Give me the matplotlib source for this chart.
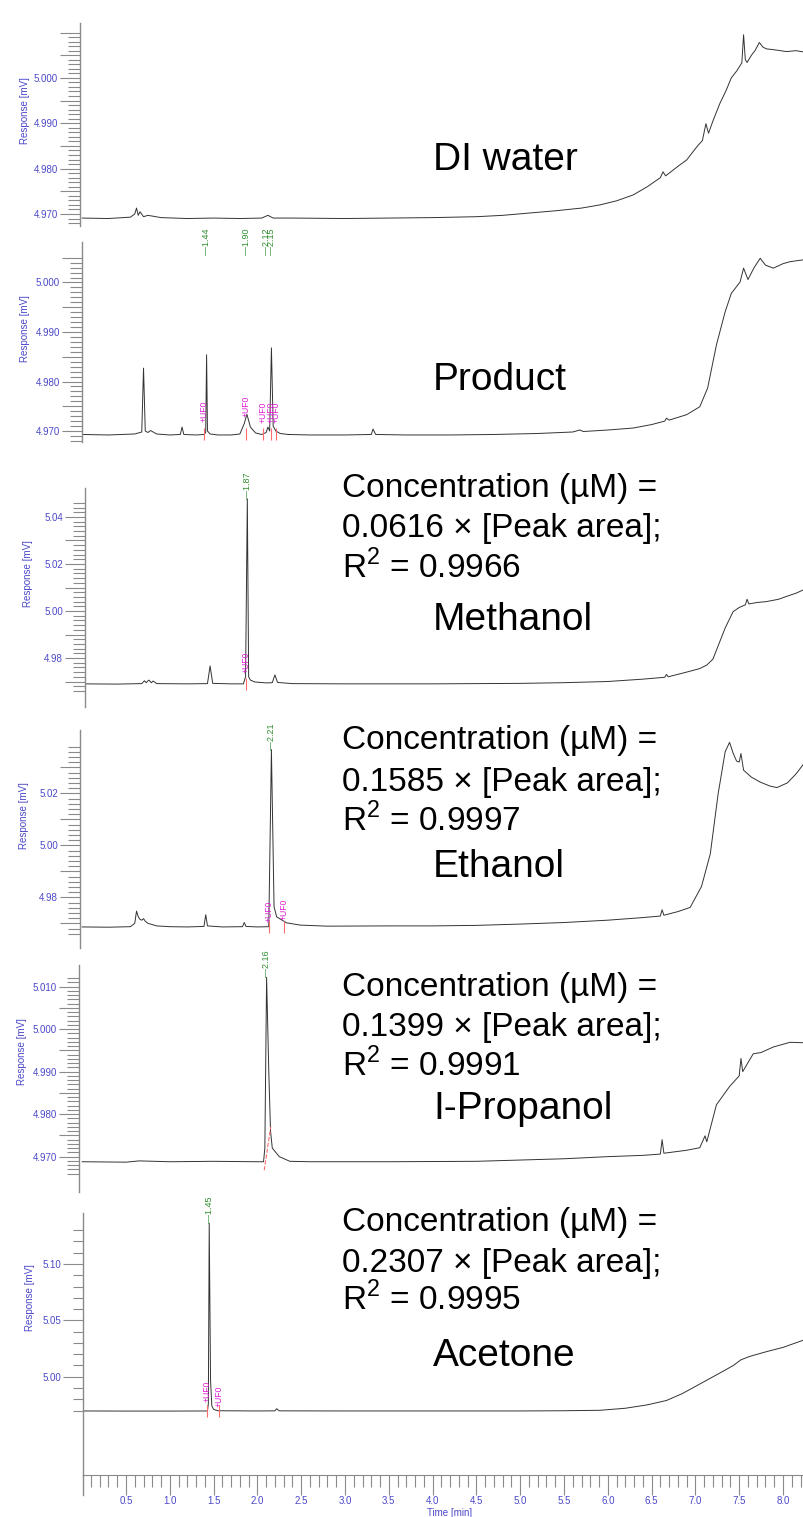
import numpy as np
import matplotlib.pyplot as plt
from matplotlib.ticker import FixedLocator, FuncFormatter
from matplotlib.lines import Line2D

plt.rcParams['font.family'] = ['Liberation Sans', 'DejaVu Sans']
plt.rcParams['mathtext.fontset'] = 'custom'
plt.rcParams['mathtext.rm'] = 'Liberation Sans'

# ---- chromatogram traces: retention time [min] / response [mV] ----
di_t = [0.00, 0.30, 0.55, 0.60, 0.62, 0.64, 0.66, 0.70, 0.75, 0.90, 1.20, 1.50, 1.80, 2.05, 2.12, 2.18,
        2.40, 3.00, 3.50, 4.00, 4.50, 4.80, 5.10, 5.40, 5.70, 5.91, 6.10, 6.29, 6.45, 6.60, 6.63, 6.66,
        6.80, 6.90, 7.02, 7.08, 7.12, 7.15, 7.20, 7.28, 7.35, 7.41, 7.47, 7.53, 7.55, 7.57, 7.59, 7.64,
        7.68, 7.73, 7.77, 7.81, 7.90, 8.04, 8.15, 8.24]
di_v = [4.9691, 4.9690, 4.9693, 4.9700, 4.9713, 4.9697, 4.9705, 4.9694, 4.9697, 4.9692, 4.9690, 4.9691,
        4.9690, 4.9691, 4.9697, 4.9691, 4.9691, 4.9690, 4.9691, 4.9692, 4.9694, 4.9697, 4.9702, 4.9707,
        4.9713, 4.9720, 4.9729, 4.9742, 4.9760, 4.9780, 4.9793, 4.9784, 4.9805, 4.9819, 4.9849, 4.9862,
        4.9899, 4.9878, 4.9905, 4.9944, 4.9972, 5.0000, 5.0015, 5.0033, 5.0095, 5.0040, 5.0034, 5.0050,
        5.0060, 5.0078, 5.0068, 5.0064, 5.0062, 5.0058, 5.0060, 5.0057]

prod_t = [0.00, 0.30, 0.60, 0.68, 0.70, 0.72, 0.75, 0.78, 0.85, 1.00, 1.12, 1.14, 1.16, 1.30, 1.39, 1.41,
          1.42, 1.43, 1.46, 1.55, 1.70, 1.80, 1.85, 1.88, 1.92, 1.98, 2.05, 2.10, 2.12, 2.14, 2.16, 2.18,
          2.21, 2.26, 2.35, 2.60, 3.00, 3.30, 3.32, 3.35, 3.70, 4.20, 4.70, 5.20, 5.60, 5.68, 5.72, 6.00,
          6.29, 6.50, 6.65, 6.67, 6.70, 6.90, 7.05, 7.14, 7.24, 7.34, 7.41, 7.51, 7.55, 7.60, 7.67, 7.74,
          7.80, 7.89, 8.00, 8.08, 8.24]
prod_v = [4.9693, 4.9692, 4.9694, 4.9698, 4.9827, 4.9700, 4.9697, 4.9701, 4.9694, 4.9692, 4.9693, 4.9708,
          4.9693, 4.9692, 4.9693, 4.9697, 4.9854, 4.9700, 4.9694, 4.9692, 4.9692, 4.9694, 4.9715, 4.9734,
          4.9708, 4.9696, 4.9693, 4.9697, 4.9708, 4.9700, 4.9868, 4.9710, 4.9700, 4.9695, 4.9693, 4.9692,
          4.9692, 4.9693, 4.9704, 4.9693, 4.9692, 4.9692, 4.9693, 4.9695, 4.9698, 4.9702, 4.9699, 4.9702,
          4.9706, 4.9713, 4.9720, 4.9726, 4.9722, 4.9733, 4.9749, 4.9787, 4.9874, 4.9941, 4.9978, 5.0001,
          5.0029, 5.0006, 5.0030, 5.0049, 5.0035, 5.0029, 5.0038, 5.0042, 5.0046]

meoh_t = [0.00, 0.40, 0.68, 0.71, 0.73, 0.76, 0.79, 0.81, 0.85, 1.20, 1.43, 1.46, 1.49, 1.70, 1.84, 1.865,
          1.885, 1.90, 1.92, 1.97, 2.10, 2.17, 2.20, 2.23, 2.40, 3.00, 4.00, 5.00, 5.50, 6.00, 6.40, 6.65,
          6.67, 6.69, 6.90, 7.05, 7.13, 7.20, 7.34, 7.43, 7.50, 7.57, 7.59, 7.61, 7.70, 7.81, 7.95, 8.04,
          8.15, 8.24]
meoh_v = [4.9690, 4.9689, 4.9691, 4.9703, 4.9695, 4.9706, 4.9695, 4.9702, 4.9691, 4.9690, 4.9691, 4.9766,
          4.9692, 4.9690, 4.9690, 4.9720, 5.0477, 4.9720, 4.9706, 4.9698, 4.9694, 4.9695, 4.9728, 4.9696,
          4.9691, 4.9690, 4.9690, 4.9692, 4.9695, 4.9700, 4.9710, 4.9718, 4.9730, 4.9720, 4.9740, 4.9755,
          4.9770, 4.9795, 4.9928, 4.9997, 5.0015, 5.0026, 5.0050, 5.0030, 5.0036, 5.0040, 5.0050, 5.0062,
          5.0076, 5.0091]

etoh_t = [0.00, 0.30, 0.55, 0.60, 0.62, 0.64, 0.66, 0.68, 0.70, 0.72, 0.75, 0.85, 1.00, 1.20, 1.39, 1.41,
          1.43, 1.60, 1.83, 1.85, 1.87, 2.00, 2.13, 2.16, 2.19, 2.22, 2.33, 2.49, 2.80, 3.50, 4.00, 4.50,
          5.00, 5.50, 6.00, 6.40, 6.60, 6.62, 6.64, 6.80, 6.94, 7.07, 7.17, 7.26, 7.34, 7.39, 7.43, 7.47,
          7.50, 7.52, 7.55, 7.64, 7.74, 7.85, 7.93, 8.05, 8.15, 8.24]
etoh_v = [4.9686, 4.9685, 4.9687, 4.9700, 4.9747, 4.9725, 4.9715, 4.9712, 4.9718, 4.9708, 4.9700, 4.9690,
          4.9687, 4.9686, 4.9688, 4.9733, 4.9690, 4.9686, 4.9687, 4.9703, 4.9688, 4.9686, 4.9687, 5.0368,
          4.9764, 4.9725, 4.9702, 4.9693, 4.9689, 4.9690, 4.9690, 4.9692, 4.9697, 4.9703, 4.9712, 4.9722,
          4.9728, 4.9752, 4.9731, 4.9745, 4.9761, 4.9842, 4.9967, 5.0199, 5.0360, 5.0396, 5.0355, 5.0324,
          5.0320, 5.0353, 5.0289, 5.0262, 5.0243, 5.0228, 5.0222, 5.0240, 5.0275, 5.0315]

prop_t = [0.00, 0.50, 0.65, 1.00, 1.50, 2.00, 2.07, 2.085, 2.105, 2.13, 2.15, 2.17, 2.25, 2.37, 2.60, 3.50,
          4.50, 5.50, 6.00, 6.40, 6.60, 6.62, 6.64, 6.90, 7.05, 7.11, 7.13, 7.24, 7.39, 7.50, 7.52, 7.54,
          7.66, 7.75, 7.89, 8.08, 8.24]
prop_v = [4.9688, 4.9687, 4.9690, 4.9688, 4.9689, 4.9688, 4.9688, 4.9720, 5.0122, 4.9900, 4.9760, 4.9720,
          4.9700, 4.9689, 4.9688, 4.9688, 4.9689, 4.9695, 4.9700, 4.9703, 4.9706, 4.9740, 4.9708, 4.9715,
          4.9721, 4.9749, 4.9735, 4.9822, 4.9865, 4.9890, 4.9931, 4.9900, 4.9942, 4.9945, 4.9958, 4.9969,
          4.9968]

acet_t = [0.00, 0.50, 1.00, 1.43, 1.44, 1.45, 1.465, 1.48, 1.50, 1.55, 2.00, 2.20, 2.22, 2.25, 3.00, 4.00,
          5.00, 5.50, 5.91, 6.20, 6.45, 6.67, 6.85, 7.05, 7.25, 7.43, 7.52, 7.62, 7.81, 8.00, 8.24]
acet_v = [4.9696, 4.9695, 4.9695, 4.9696, 4.9760, 5.1361, 4.9970, 4.9740, 4.9710, 4.9698, 4.9696, 4.9697,
          4.9716, 4.9697, 4.9696, 4.9696, 4.9696, 4.9698, 4.9702, 4.9720, 4.9750, 4.9789, 4.9850, 4.9935,
          5.0020, 5.0098, 5.0150, 5.0180, 5.0222, 5.0260, 5.0326]

# ---- peak annotations ----
prod_rt_t = [1.42, 1.88, 2.106, 2.163]
prod_rt_lbl = ['1.44', '1.90', '2.12', '2.15']
meoh_rt_t, meoh_rt_lbl = [1.885], ['1.87']
etoh_rt_t, etoh_rt_lbl = [2.163], ['2.21']
prop_rt_t, prop_rt_lbl = [2.105], ['2.16']
acet_rt_t, acet_rt_lbl = [1.451], ['1.45']

prod_uf_t = [1.39, 1.87, 2.064, 2.152, 2.212]
prod_uf_v = [4.9718, 4.9728, 4.9716, 4.9716, 4.9716]
meoh_uf_t, meoh_uf_v = [1.871], [4.9736]
etoh_uf_t, etoh_uf_v = [2.133, 2.304], [4.9705, 4.9713]
acet_uf_t, acet_uf_v = [1.425, 1.563], [4.9776, 4.9731]

# ---- text ----
names = ['DI water', 'Product', 'Methanol', 'Ethanol', 'I-Propanol', 'Acetone']
cal_slope = ['', '', '0.0616', '0.1585', '0.1399', '0.2307']
cal_r2 = ['', '', '0.9966', '0.9997', '0.9991', '0.9995']
y_labels = [[4.970, 4.980, 4.990, 5.000], [4.970, 4.980, 4.990, 5.000], [4.98, 5.00, 5.02, 5.04],
            [4.98, 5.00, 5.02], [4.970, 4.980, 4.990, 5.000, 5.010], [5.00, 5.05, 5.10]]
y_fmt = ['{:.3f}', '{:.3f}', '{:.2f}', '{:.2f}', '{:.3f}', '{:.2f}']
x_labels = [0.5, 1.0, 1.5, 2.0, 2.5, 3.0, 3.5, 4.0, 4.5, 5.0, 5.5, 6.0, 6.5, 7.0, 7.5, 8.0]

series = [(di_t, di_v), (prod_t, prod_v), (meoh_t, meoh_v), (etoh_t, etoh_v), (prop_t, prop_v), (acet_t, acet_v)]
rt_marks = [None, (prod_rt_t, prod_rt_lbl), (meoh_rt_t, meoh_rt_lbl), (etoh_rt_t, etoh_rt_lbl),
            (prop_rt_t, prop_rt_lbl), (acet_rt_t, acet_rt_lbl)]
uf_marks = [None, (prod_uf_t, prod_uf_v), (meoh_uf_t, meoh_uf_v), (etoh_uf_t, etoh_uf_v), None,
            (acet_uf_t, acet_uf_v)]

# ---- layout (pixels) ----
W, H = 804, 1517
X0, PX_MIN = 82.2, 87.6
BLUE, GRAY, GREEN, MAGENTA, RED = '#4b48c8', '#8a8a8a', '#2f8f2f', '#e01ed2', '#ff6a6a'
# left, top, bottom, value at top, value at bottom
layout = [(80, 23, 226, 5.0121, 4.96735),
          (82, 242, 442, 5.00818, 4.96778),
          (85, 488, 707, 5.05234, 4.95915),
          (80, 730, 948, 5.04435, 4.96050),
          (79, 965, 1192, 5.01509, 4.96168),
          (83, 1213, 1475, 5.14525, 4.91278)]
# tick range lo, hi, minor step, major step, minor length px
tick_cfg = [(4.967, 5.010, 0.001, 0.005, 12), (4.968, 5.005, 0.001, 0.005, 12),
            (4.966, 5.046, 0.002, 0.010, 12), (4.966, 5.038, 0.002, 0.010, 12),
            (4.966, 5.012, 0.001, 0.005, 12), (4.970, 5.130, 0.010, 0.050, 10)]
ylab_pos = [(25, 111), (25, 329), (28, 574), (24, 816), (22, 1052), (30, 1298)]
name_y = [170, 390, 630, 877, 1119, 1366]
conc_y = [None, None, (497, 537, 578), (749, 791, 831), (996, 1036, 1076), (1231, 1272, 1310)]
prod_rt_top = 5.0055

fig = plt.figure(figsize=(W / 100, H / 100), dpi=100)
pt = 0.72  # points per pixel at dpi 100

for i, (t, v) in enumerate(series):
    L, top, bot, ytop, ybot = layout[i]
    ax = fig.add_axes([L / W, 1 - bot / H, (W - L) / W, (bot - top) / H])
    ax.patch.set_alpha(0)
    ax.plot(t, v, color='#333333', lw=0.7)
    ax.set_xlim((L - X0) / PX_MIN, (W - X0) / PX_MIN)
    ax.set_ylim(ybot, ytop)
    for s in ['top', 'right', 'bottom']:
        ax.spines[s].set_visible(False)
    ax.spines['left'].set_color(GRAY)
    ax.spines['left'].set_linewidth(1.0)

    lo, hi, mstep, Mstep, mlen = tick_cfg[i]
    n = int(round((hi - lo) / mstep))
    vals = np.round(lo + mstep * np.arange(n + 1), 4)
    is_major = np.isclose(np.round(vals / Mstep) * Mstep, vals, atol=1e-6)
    labs = y_labels[i]
    fmt = y_fmt[i]
    ax.yaxis.set_major_locator(FixedLocator(vals[is_major]))
    ax.yaxis.set_minor_locator(FixedLocator(vals[~is_major]))
    ax.yaxis.set_major_formatter(FuncFormatter(
        lambda val, p, labs=labs, fmt=fmt: fmt.format(val) if np.any(np.isclose(val, labs, atol=1e-6)) else ''))
    ax.tick_params(axis='y', which='major', direction='out', length=20 * pt, width=0.8, color=GRAY,
                   labelcolor=BLUE, labelsize=7, pad=1.5)
    ax.tick_params(axis='y', which='minor', direction='out', length=mlen * pt, width=0.8, color=GRAY)

    if i < 5:
        ax.set_xticks([])
    else:
        ax.spines['bottom'].set_visible(True)
        ax.spines['bottom'].set_color(GRAY)
        ax.set_xticks(x_labels)
        ax.set_xticklabels(['{:.1f}'.format(x) for x in x_labels])
        ax.xaxis.set_minor_locator(FixedLocator(np.round(np.arange(1, 83) * 0.1, 2)))
        ax.tick_params(axis='x', which='major', direction='out', length=20 * pt, width=0.8, color=GRAY,
                       labelcolor=BLUE, labelsize=7, pad=1)
        ax.tick_params(axis='x', which='minor', direction='out', length=12 * pt, width=0.8, color=GRAY)

    # retention-time labels
    if rt_marks[i] is not None:
        ts, lbls = rt_marks[i]
        ta, va = np.array(t), np.array(v)
        for tt, lb in zip(ts, lbls):
            if i == 1:
                yy = prod_rt_top
            else:
                yy = va[np.abs(ta - tt) < 0.05].max()
            ax.text(tt, yy, '\u2014' + lb, rotation=90, ha='center', va='bottom',
                    color=GREEN, fontsize=6.5)

    # integration markers
    if uf_marks[i] is not None:
        ts, vs = uf_marks[i]
        base = v[0]
        for tt, vv in zip(ts, vs):
            ax.text(tt, vv, '+UF0', rotation=90, ha='center', va='bottom', color=MAGENTA, fontsize=6.2)
            ax.plot([tt], [base], marker='|', markersize=12 * pt, color=RED, mew=0.8, clip_on=False)

    if i == 4:
        ax.plot([2.078, 2.152], [4.9668, 4.9770], color=RED, lw=0.8, ls='--')

    fig.text(ylab_pos[i][0] / W, 1 - ylab_pos[i][1] / H, 'Response [mV]', rotation=90,
             ha='center', va='center', color=BLUE, fontsize=7)

    fig.text(433 / W, 1 - name_y[i] / H, names[i], ha='left', va='baseline', fontsize=28)
    if conc_y[i] is not None:
        lines = ['Concentration (\u00b5M) =',
                 cal_slope[i] + ' \u00d7 [Peak area];',
                 r'R$^{2}$ = ' + cal_r2[i]]
        for yy, s in zip(conc_y[i], lines):
            fig.text(342 / W, 1 - yy / H, s, ha='left', va='baseline', fontsize=24)

fig.add_artist(Line2D([83 / W, 83 / W], [1 - 1475 / H, 1 - 1495 / H], color=GRAY, lw=1.0))
fig.text(427 / W, 1 - 1513 / H, 'Time [min]', ha='left', va='center', color=BLUE, fontsize=7)

fig.savefig('out.png', dpi=100)
